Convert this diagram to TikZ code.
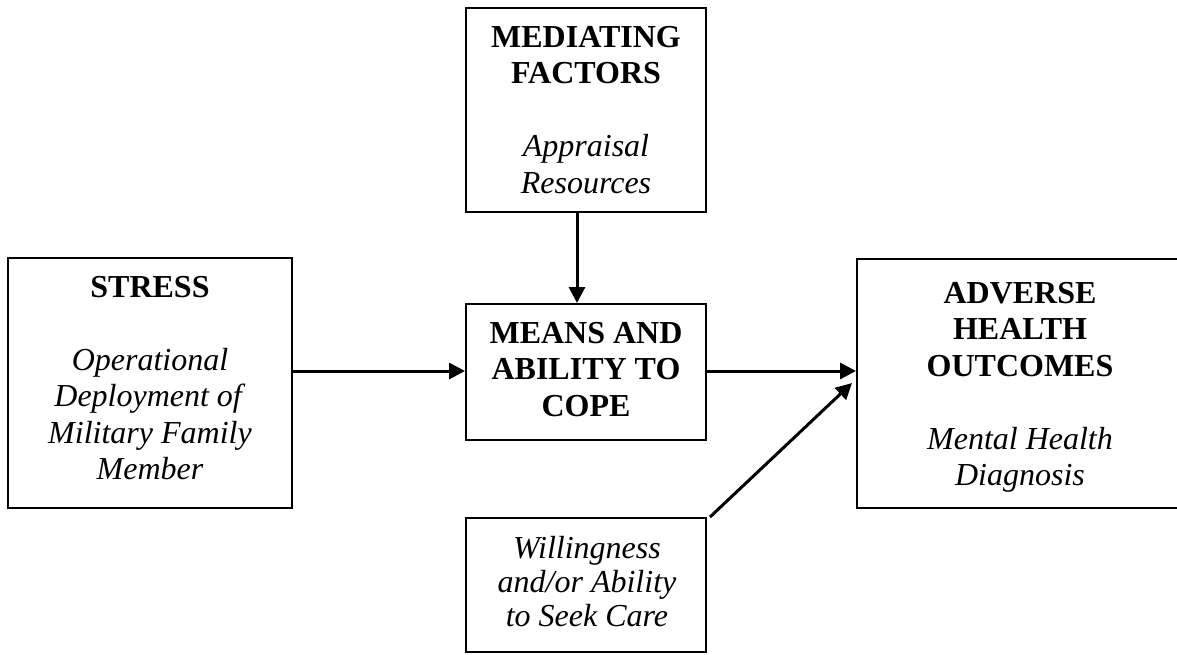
\documentclass[tikz,border=0pt]{standalone}
\usepackage{fontspec}
\setmainfont{Liberation Serif}
\usetikzlibrary{arrows.meta}
\begin{document}
\begin{tikzpicture}[x=1pt,y=-1pt,
  box/.style={draw=black,line width=2pt,inner sep=0pt,minimum width=#1},
  txt/.style={inner sep=0pt,align=center,anchor=north,font=\fontsize{32}{36.5}\selectfont},
  conn/.style={line width=3pt,-{Triangle[length=16pt,width=16pt]}}]
\useasboundingbox (0,0) rectangle (1177,654);
\clip (0,0) rectangle (1177,654);
\fill[white] (0,0) rectangle (1177,654);
% boxes
\node[box=240pt,minimum height=204pt] (med) at (586,110) {};
\node[box=284pt,minimum height=250pt] (str) at (150,383) {};
\node[box=240pt,minimum height=136pt] (cope) at (586,372) {};
\node[box=326pt,minimum height=249pt] (adv) at (1020,383.5) {};
\node[box=240pt,minimum height=134pt] (will) at (586,585) {};
% texts
\node[txt] (medt) at (586,26) {\textbf{MEDIATING}\\\textbf{FACTORS}\\[36.5pt]\textit{Appraisal}\\\textit{Resources}};
\node[txt] (strt) at (150,276) {\textbf{STRESS}\\[36.5pt]\textit{Operational}\\\textit{Deployment of}\\\textit{Military Family}\\\textit{Member}};
\node[txt] (copet) at (586,322) {\textbf{MEANS AND}\\\textbf{ABILITY TO}\\\textbf{COPE}};
\node[txt] (advt) at (1020,282) {\textbf{ADVERSE}\\\textbf{HEALTH}\\\textbf{OUTCOMES}\\[36.5pt]\textit{Mental Health}\\\textit{Diagnosis}};
\node[txt,font=\fontsize{32}{34}\selectfont] (willt) at (587,536) {\textit{Willingness}\\\textit{and/or Ability}\\\textit{to Seek Care}};
% connectors
\draw[conn] (str.east |- 0,371) -- (cope.west |- 0,371);
\draw[conn] (med.south -| 577,0) -- (cope.north -| 577,0);
\draw[conn] (cope.east |- 0,371) -- (adv.west |- 0,371);
\coordinate (dstart) at (710,517);
\coordinate (dend) at (852,383);
\draw[conn] (dstart) -- (dend);
\end{tikzpicture}
\end{document}
